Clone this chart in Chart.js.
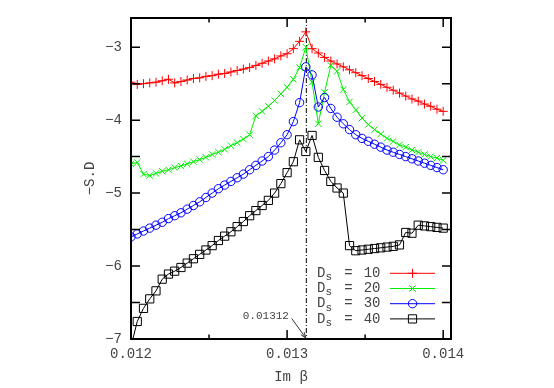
<!DOCTYPE html>
<html><head><meta charset="utf-8">
<script src="https://cdn.jsdelivr.net/npm/chart.js@4/dist/chart.umd.min.js"></script>
<style>html,body{margin:0;padding:0;background:#fff;}</style>
</head><body>
<canvas id="c" width="554" height="388"></canvas>
<script>
// ---- data ----
const imBeta = [0.01200,0.01204,0.01208,0.01212,0.01216,0.01220,0.01224,0.01228,0.01232,0.01236,
  0.01240,0.01244,0.01248,0.01252,0.01256,0.01260,0.01264,0.01268,0.01272,0.01276,
  0.01280,0.01284,0.01288,0.01292,0.01296,0.01300,0.01304,0.01308,0.01312,0.01316,
  0.01320,0.01324,0.01328,0.01332,0.01336,0.01340,0.01344,0.01348,0.01352,0.01356,
  0.01360,0.01364,0.01368,0.01372,0.01376,0.01380,0.01384,0.01388,0.01392,0.01396,0.01400];
const ds10 = [-3.48,-3.51,-3.50,-3.49,-3.48,-3.46,-3.44,-3.49,-3.47,-3.45,
  -3.43,-3.42,-3.40,-3.39,-3.37,-3.36,-3.34,-3.32,-3.30,-3.28,
  -3.25,-3.22,-3.19,-3.16,-3.12,-3.09,-3.02,-2.92,-2.79,-3.02,
  -3.08,-3.14,-3.19,-3.23,-3.27,-3.31,-3.35,-3.39,-3.43,-3.47,
  -3.51,-3.55,-3.59,-3.63,-3.67,-3.71,-3.74,-3.78,-3.81,-3.85,-3.88];
const ds20 = [-4.60,-4.58,-4.74,-4.76,-4.73,-4.70,-4.68,-4.65,-4.63,-4.60,
  -4.57,-4.54,-4.51,-4.47,-4.44,-4.40,-4.35,-4.31,-4.26,-4.20,
  -3.94,-3.88,-3.81,-3.73,-3.64,-3.55,-3.44,-3.28,-3.00,-3.48,
  -4.05,-3.62,-3.25,-3.33,-3.58,-3.75,-3.86,-3.97,-4.06,-4.13,
  -4.19,-4.25,-4.29,-4.34,-4.37,-4.41,-4.44,-4.47,-4.50,-4.52,-4.55];
const ds30 = [-5.60,-5.56,-5.52,-5.48,-5.44,-5.40,-5.35,-5.31,-5.27,-5.22,
  -5.17,-5.12,-5.06,-5.00,-4.94,-4.89,-4.84,-4.79,-4.74,-4.68,
  -4.62,-4.56,-4.50,-4.41,-4.31,-4.20,-4.02,-3.76,-3.27,-3.38,
  -3.82,-3.69,-3.84,-3.96,-4.05,-4.13,-4.20,-4.25,-4.29,-4.33,
  -4.37,-4.41,-4.44,-4.47,-4.50,-4.53,-4.56,-4.59,-4.62,-4.65,-4.68];
const ds40 = [-7.10,-6.76,-6.58,-6.45,-6.34,-6.18,-6.11,-6.07,-6.02,-5.96,
  -5.90,-5.84,-5.78,-5.72,-5.65,-5.59,-5.53,-5.46,-5.39,-5.31,
  -5.24,-5.17,-5.10,-5.00,-4.87,-4.72,-4.57,-4.27,-4.43,-4.21,
  -4.51,-4.69,-4.84,-4.93,-5.00,-5.72,-5.79,-5.78,-5.77,-5.76,
  -5.75,-5.74,-5.73,-5.71,-5.54,-5.55,-5.44,-5.45,-5.46,-5.47,-5.48];
const seriesLabels = ['10','20','30','40'];
const peakX = 0.01312;
const peakLabel = '0.01312';
const peakLabelPos = [0.013012, -6.69];
const arrowFrom = [0.013030, -6.72];

const FONT = 'Liberation Mono, DejaVu Sans Mono, monospace';
const TXT = '#444';
const colors = ['#ff0000','#00ee00','#0000ff','#000000'];
const styles = ['cross','crossRot','circle','rect'];
const radii = [4.5,4.5,4.2,5.8];
const allSeries = [ds10, ds20, ds30, ds40];

const datasets = allSeries.map((s,k)=>({
  label: 'Ds = ' + seriesLabels[k],
  data: imBeta.map((x,i)=>({x, y: s[i]})),
  borderColor: colors[k], backgroundColor: 'transparent',
  pointBackgroundColor: 'transparent', pointBorderColor: colors[k],
  pointStyle: styles[k], pointRadius: radii[k], pointBorderWidth: 1,
  borderWidth: 1, tension: 0, clip: 0, order: 4-k
}));

function drawMarker(ctx, style, x, y, r, color){
  ctx.save(); ctx.strokeStyle = color; ctx.lineWidth = 1; ctx.beginPath();
  if (style==='cross'){ ctx.moveTo(x-r,y); ctx.lineTo(x+r,y); ctx.moveTo(x,y-r); ctx.lineTo(x,y+r); }
  else if (style==='crossRot'){ const d=r*Math.SQRT1_2; ctx.moveTo(x-d,y-d); ctx.lineTo(x+d,y+d); ctx.moveTo(x+d,y-d); ctx.lineTo(x-d,y+d); }
  else if (style==='circle'){ ctx.arc(x,y,r,0,Math.PI*2); }
  else { const s=r*Math.SQRT1_2; ctx.rect(x-s,y-s,2*s,2*s); }
  ctx.stroke(); ctx.restore();
}

const decor = {
  id: 'decor',
  beforeDatasetsDraw(chart){
    const {ctx, chartArea:{top,bottom}} = chart;
    const px = chart.scales.x.getPixelForValue(peakX);
    ctx.save(); ctx.strokeStyle = '#000'; ctx.lineWidth = 1; ctx.setLineDash([5,2,1,2]);
    ctx.beginPath(); ctx.moveTo(px+0.5, top); ctx.lineTo(px+0.5, bottom); ctx.stroke(); ctx.restore();
  },
  afterDraw(chart){
    const {ctx, chartArea:{left,right,top,bottom}} = chart;
    const xs = chart.scales.x, ys = chart.scales.y;
    ctx.save();
    ctx.strokeStyle = '#000';
    ctx.lineWidth = 1.5;
    ctx.beginPath();
    xs.ticks.forEach(t=>{
      const p = xs.getPixelForValue(t.value);
      const major = Math.abs(t.value*1000 - Math.round(t.value*1000)) < 1e-6;
      const L = major ? 9 : 4.5;
      ctx.moveTo(p, bottom); ctx.lineTo(p, bottom-L);
      ctx.moveTo(p, top); ctx.lineTo(p, top+L);
    });
    ys.ticks.forEach(t=>{
      const p = ys.getPixelForValue(t.value);
      ctx.moveTo(left, p); ctx.lineTo(left+9, p);
      ctx.moveTo(right, p); ctx.lineTo(right-9, p);
    });
    ctx.stroke();
    ctx.lineWidth = 2;
    ctx.strokeRect(left, top, right-left, bottom-top);

    // annotation
    ctx.fillStyle = TXT; ctx.font = '11px ' + FONT; ctx.textAlign = 'right'; ctx.textBaseline = 'middle';
    ctx.fillText(peakLabel, xs.getPixelForValue(peakLabelPos[0]), ys.getPixelForValue(peakLabelPos[1]));
    const ax0 = xs.getPixelForValue(arrowFrom[0]), ay0 = ys.getPixelForValue(arrowFrom[1]);
    const ax1 = xs.getPixelForValue(peakX), ay1 = bottom - 1;
    ctx.strokeStyle = '#333'; ctx.lineWidth = 1;
    ctx.beginPath(); ctx.moveTo(ax0, ay0); ctx.lineTo(ax1, ay1);
    const ang = Math.atan2(ay1-ay0, ax1-ax0), h = 6;
    ctx.moveTo(ax1, ay1); ctx.lineTo(ax1 - h*Math.cos(ang-0.35), ay1 - h*Math.sin(ang-0.35));
    ctx.moveTo(ax1, ay1); ctx.lineTo(ax1 - h*Math.cos(ang+0.35), ay1 - h*Math.sin(ang+0.35));
    ctx.stroke();

    // legend
    seriesLabels.forEach((lab,k)=>{
      const y = bottom - 65.7 + k*15.2;
      ctx.fillStyle = TXT; ctx.textBaseline = 'middle';
      ctx.font = '14px ' + FONT; ctx.textAlign = 'left';
      ctx.fillText('D', right - 134, y);
      ctx.font = '11px ' + FONT;
      ctx.fillText('s', right - 125.5, y + 4);
      ctx.font = '14px ' + FONT; ctx.textAlign = 'center';
      ctx.fillText('=', right - 102.5, y);
      ctx.textAlign = 'right';
      ctx.fillText(lab, right - 70.5, y);
      ctx.strokeStyle = colors[k]; ctx.lineWidth = 1;
      ctx.beginPath(); ctx.moveTo(right - 61, y); ctx.lineTo(right - 16, y); ctx.stroke();
      drawMarker(ctx, styles[k], right - 38.5, y, radii[k], colors[k]);
    });
    ctx.restore();
  }
};

new Chart(document.getElementById('c'), {
  type: 'line',
  data: { datasets },
  plugins: [decor],
  options: {
    responsive: false, animation: false, devicePixelRatio: 1,
    layout: { padding: { left: 0, right: 103, top: 18, bottom: 0 } },
    plugins: { legend: { display: false }, tooltip: { enabled: false } },
    scales: {
      x: {
        type: 'linear', min: 0.012, max: 0.01405,
        afterFit(s){ s.height = 49; },
        grid: { display: false, drawTicks: false }, border: { display: false },
        ticks: { stepSize: 0.0005, includeBounds: false, autoSkip: false, maxRotation: 0, padding: 7,
          font: { family: FONT, size: 14 }, color: TXT,
          callback(v){ return Math.abs(v*1000 - Math.round(v*1000)) < 1e-6 ? Number(v).toFixed(3) : ''; } },
        title: { display: true, text: 'Im β', font: { family: FONT, size: 14 }, color: TXT, padding: { top: 0, bottom: 2 } }
      },
      y: {
        type: 'linear', min: -7, max: -2.6,
        afterFit(s){ s.width = 131; },
        grid: { display: false, drawTicks: false }, border: { display: false },
        ticks: { stepSize: 0.5, includeBounds: false, autoSkip: false, padding: 9,
          font: { family: FONT, size: 14 }, color: TXT,
          callback(v){ return Math.abs(v - Math.round(v)) < 1e-9 ? '\u2212' + Math.abs(Math.round(v)) : ''; } },
        title: { display: true, text: '\u2212S.D', font: { family: FONT, size: 14 }, color: TXT, padding: { top: 81.6, bottom: 0 } }
      }
    }
  }
});
</script>
</body></html>
